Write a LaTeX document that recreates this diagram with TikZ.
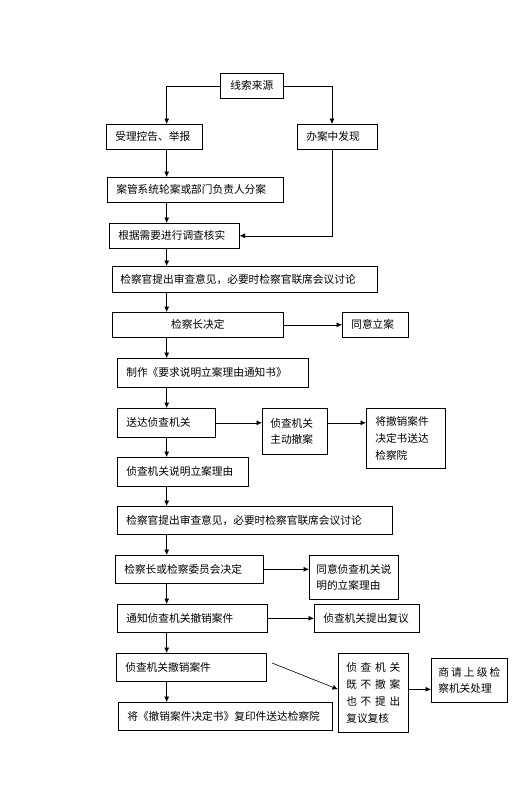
\documentclass[tikz,border=0pt]{standalone}
\usepackage{fontspec}
\newfontfamily\cjk{Noto Sans CJK SC}
\usetikzlibrary{arrows.meta,positioning}

\begin{document}
\begin{tikzpicture}[
  x=1pt,y=-1pt,
  box/.style={
    draw,anchor=north west,align=left,
    inner xsep=9pt,inner ysep=0pt,line width=0.6pt,
    font=\cjk\fontsize{10.7}{16.7}\selectfont
  },
  arr/.style={-{Latex[length=5.5pt,width=5pt]},line width=0.6pt}
]
  \useasboundingbox (0,0) rectangle (512,790);
  \coordinate (spine) at (166.7,0);
  \coordinate (branch) at (332,0);

  \node[box,align=center,text width=45pt,minimum height=25pt] (src) at (220,73) {线索来源};
  \node[box,text width=78pt,minimum height=25pt] (report) at (106,124) {受理控告、举报};
  \node[box,text width=62pt,minimum height=25pt] (found) at (297,124) {办案中发现};
  \node[box,text width=158pt,minimum height=25pt] (assign) at (107,177) {案管系统轮案或部门负责人分案};
  \node[box,text width=112pt,minimum height=25pt] (verify) at (109,223) {根据需要进行调查核实};
  \node[box,inner xsep=8pt,text width=249pt,minimum height=26pt] (review1) at (112,266)
    {检察官提出审查意见，必要时检察官联席会议讨论};
  \node[box,align=center,text width=153pt,minimum height=25pt] (chief) at (112,312) {检察长决定};
  \node[box,text width=48pt,minimum height=25pt] (agree) at (342,312) {同意立案};
  \node[box,text width=173pt,minimum height=29pt] (notice) at (117,358) {制作《要求说明立案理由通知书》};
  \node[box,text width=80pt,minimum height=29pt] (deliver) at (117,408) {送达侦查机关};
  \node[box,inner xsep=8pt,text width=49pt,minimum height=46pt] (withdraw) at (262,408)
    {侦查机关\\主动撤案};
  \node[box,text width=61pt,minimum height=60pt] (sendback) at (366,408)
    {将撤销案件\\决定书送达\\检察院};
  \node[box,text width=113pt,minimum height=29pt] (explain) at (117,457) {侦查机关说明立案理由};
  \node[box,text width=257pt,minimum height=28pt] (review2) at (117,506)
    {检察官提出审查意见，必要时检察官联席会议讨论};
  \node[box,text width=130pt,minimum height=28pt] (committee) at (115,555) {检察长或检察委员会决定};
  \node[box,inner xsep=7pt,text width=75pt,minimum height=44pt] (accept) at (309,555)
    {同意侦查机关说\\明的立案理由};
  \node[box,text width=132pt,minimum height=28pt] (revoke) at (117,604) {通知侦查机关撤销案件};
  \node[box,text width=87pt,minimum height=28pt] (reconsider) at (314,604) {侦查机关提出复议};
  \node[box,text width=132pt,minimum height=28pt] (revoked) at (116,653) {侦查机关撤销案件};
  \node[box,text width=196pt,minimum height=28pt] (copy) at (118,702)
    {将《撤销案件决定书》复印件送达检察院};
  \node[box,inner xsep=8pt,text width=54pt,minimum height=79pt,font=\cjk\fontsize{10.7}{17.2}\selectfont] (neither) at (338,653)
    {\makebox[54pt]{侦\hfill 查\hfill 机\hfill 关}\\
     \makebox[54pt]{既\hfill 不\hfill 撤\hfill 案}\\
     \makebox[54pt]{也\hfill 不\hfill 提\hfill 出}\\
     复议复核};
  \node[box,inner xsep=7pt,text width=62pt,minimum height=44pt] (superior) at (431,658)
    {\makebox[62pt]{商\hfill 请\hfill 上\hfill 级\hfill 检}\\察机关处理};

  \draw[arr] (src.west) -| (spine |- report.north);
  \draw[arr] (src.east) -| (branch |- found.north);
  \draw[arr] (branch |- found.south) |- (verify.east);
  \foreach \a/\b in {report/assign,assign/verify,verify/review1,review1/chief,
    chief/notice,notice/deliver,deliver/explain,explain/review2,
    review2/committee,committee/revoke,revoke/revoked,revoked/copy}
    \draw[arr] (spine |- \a.south) -- (spine |- \b.north);

  \draw[arr] (chief.east) -- (agree.west);
  \draw[arr] (deliver.east) -- (deliver.east -| withdraw.west);
  \draw[arr] (withdraw.east |- deliver.east) -- (deliver.east -| sendback.west);
  \draw[arr] (committee.east) -- (committee.east -| accept.west);
  \draw[arr] (revoke.east) -- (revoke.east -| reconsider.west);
  \coordinate (tail) at (272,663);
  \coordinate (mid) at ([yshift=3.5pt]neither.east);
  \draw[arr] (tail) -- ([yshift=3.5pt]neither.west);
  \draw[arr] (mid) -- (mid -| superior.west);
\end{tikzpicture}
\end{document}
